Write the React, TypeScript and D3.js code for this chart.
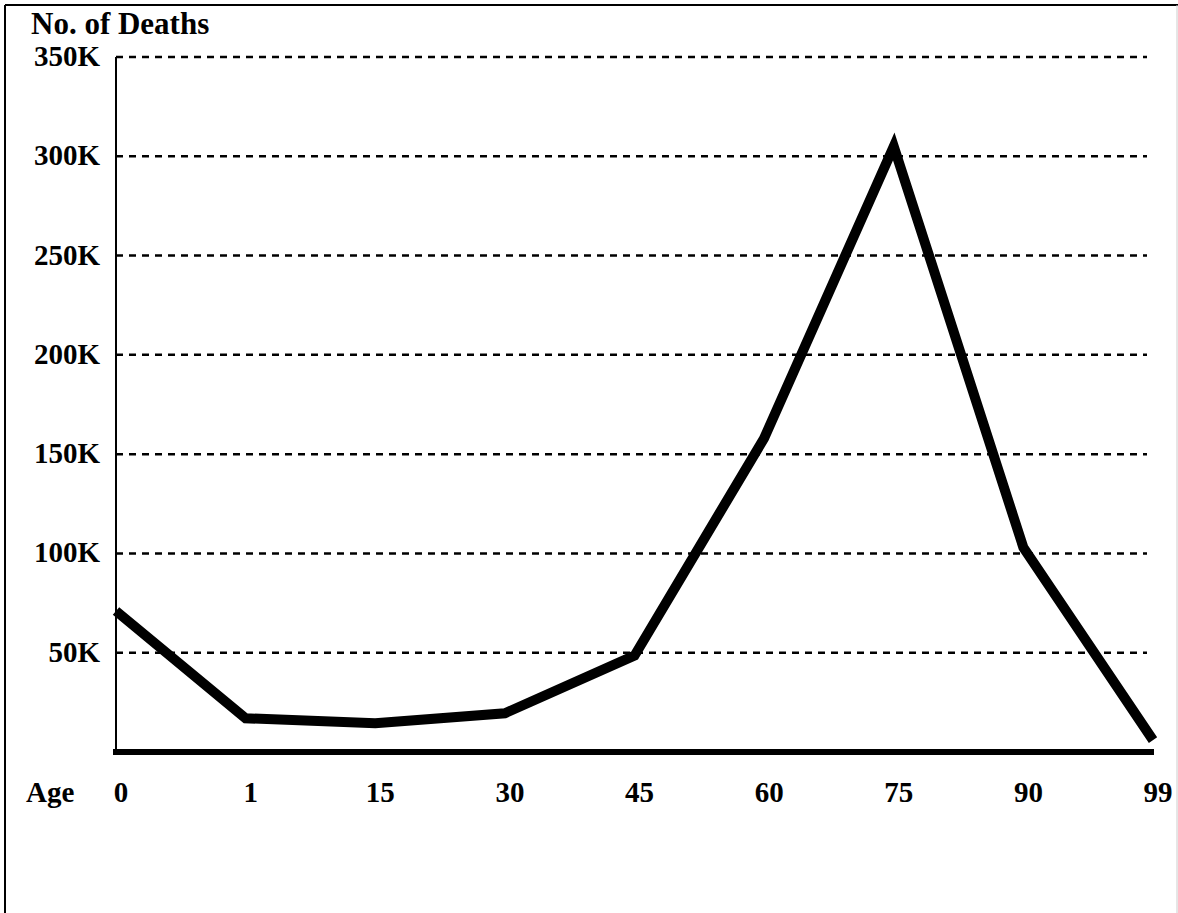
import React from "react";
import * as d3 from "d3";

const ageLabels = ["0", "1", "15", "30", "45", "60", "75", "90", "99"];
const deaths = [71000, 17000, 14500, 19500, 48500, 158000, 305000, 103000, 6000];
const yTicks = [50000, 100000, 150000, 200000, 250000, 300000, 350000];
const yTickLabels = ["50K", "100K", "150K", "200K", "250K", "300K", "350K"];

const W = 1178;
const H = 913;
const FONT = "'Liberation Serif', 'DejaVu Serif', serif";

export default function App() {
  const x = d3.scalePoint<string>().domain(ageLabels).range([116, 1153]);
  const y = d3.scaleLinear().domain([0, 350000]).range([752, 57]);

  const line = d3
    .line<number>()
    .x((_, i) => x(ageLabels[i]) as number)
    .y((d) => y(d));

  const textStyle: React.CSSProperties = {
    fontFamily: FONT,
    fontWeight: 700,
    fontSize: 29,
    fill: "#000",
  };

  return (
    <svg
      width={W}
      height={H}
      style={{ position: "absolute", left: 0, top: 0, display: "block", background: "#fff" }}
    >
      <rect x={0} y={0} width={W} height={H} fill="#fff" />
      {/* frame */}
      <line x1={5} y1={5} x2={W} y2={5} stroke="#000" strokeWidth={2} />
      <line x1={5} y1={5} x2={5} y2={H} stroke="#000" strokeWidth={2} />
      <line x1={1177} y1={5} x2={1177} y2={H} stroke="#ccc" strokeWidth={1} />

      {/* title */}
      <text x={31} y={34} style={{ ...textStyle, fontSize: 31 }}>
        No. of Deaths
      </text>

      {/* gridlines */}
      {yTicks.map((t) => (
        <line
          key={t}
          x1={116}
          x2={1147}
          y1={y(t)}
          y2={y(t)}
          stroke="#000"
          strokeWidth={2.5}
          strokeDasharray="7 6"
        />
      ))}

      {/* y tick labels */}
      {yTicks.map((t, i) => (
        <text key={t} x={100} y={y(t) + 9} textAnchor="end" style={textStyle}>
          {yTickLabels[i]}
        </text>
      ))}

      {/* y axis */}
      <line x1={116} x2={116} y1={57} y2={752} stroke="#000" strokeWidth={2} />

      {/* data line */}
      <path
        d={line(deaths) || ""}
        fill="none"
        stroke="#000"
        strokeWidth={10}
        strokeLinejoin="miter"
        strokeLinecap="butt"
      />

      {/* x axis */}
      <line x1={113} x2={1154} y1={752} y2={752} stroke="#000" strokeWidth={6} />

      {/* x labels */}
      <text x={26} y={802} style={textStyle}>
        Age
      </text>
      {ageLabels.map((a) => (
        <text key={a} x={(x(a) as number) + 5} y={802} textAnchor="middle" style={textStyle}>
          {a}
        </text>
      ))}
    </svg>
  );
}
